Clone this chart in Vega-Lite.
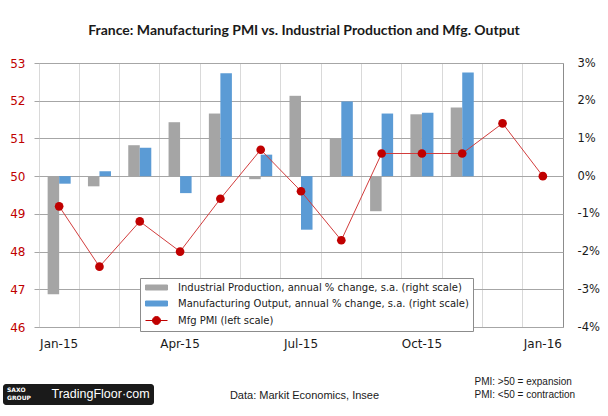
{
  "$schema": "https://vega.github.io/schema/vega-lite/v6.json",
  "width": 524,
  "height": 264,
  "autosize": {"type": "none"},
  "padding": {"left": 39, "top": 63, "right": 45, "bottom": 89},
  "background": "white",
  "title": {
    "text": "France: Manufacturing PMI vs. Industrial Production and Mfg. Output",
    "font": "Lato", "fontSize": 14, "fontWeight": "bold", "color": "#1a1a1a",
    "anchor": "middle", "frame": "group", "offset": 19, "dx": 3
  },
  "config": {
    "view": {"stroke": "#8c8c8c", "strokeWidth": 1},
    "axis": {"labelFont": "DejaVu Sans", "labelFontSize": 12, "titleFont": "Liberation Sans", "titleFontWeight": "normal", "titleColor": "#1a1a1a", "labelColor": "#1a1a1a"}
  },
  "datasets": {
    "bars": [
      {"month": "Jan-15", "series": "Industrial Production, annual % change, s.a. (right scale)", "value": -3.13},
      {"month": "Jan-15", "series": "Manufacturing Output, annual % change, s.a. (right scale)", "value": -0.2},
      {"month": "Feb-15", "series": "Industrial Production, annual % change, s.a. (right scale)", "value": -0.27},
      {"month": "Feb-15", "series": "Manufacturing Output, annual % change, s.a. (right scale)", "value": 0.13},
      {"month": "Mar-15", "series": "Industrial Production, annual % change, s.a. (right scale)", "value": 0.82},
      {"month": "Mar-15", "series": "Manufacturing Output, annual % change, s.a. (right scale)", "value": 0.75},
      {"month": "Apr-15", "series": "Industrial Production, annual % change, s.a. (right scale)", "value": 1.43},
      {"month": "Apr-15", "series": "Manufacturing Output, annual % change, s.a. (right scale)", "value": -0.45},
      {"month": "May-15", "series": "Industrial Production, annual % change, s.a. (right scale)", "value": 1.66},
      {"month": "May-15", "series": "Manufacturing Output, annual % change, s.a. (right scale)", "value": 2.73},
      {"month": "Jun-15", "series": "Industrial Production, annual % change, s.a. (right scale)", "value": -0.08},
      {"month": "Jun-15", "series": "Manufacturing Output, annual % change, s.a. (right scale)", "value": 0.57},
      {"month": "Jul-15", "series": "Industrial Production, annual % change, s.a. (right scale)", "value": 2.13},
      {"month": "Jul-15", "series": "Manufacturing Output, annual % change, s.a. (right scale)", "value": -1.42},
      {"month": "Aug-15", "series": "Industrial Production, annual % change, s.a. (right scale)", "value": 0.99},
      {"month": "Aug-15", "series": "Manufacturing Output, annual % change, s.a. (right scale)", "value": 1.98},
      {"month": "Sep-15", "series": "Industrial Production, annual % change, s.a. (right scale)", "value": -0.93},
      {"month": "Sep-15", "series": "Manufacturing Output, annual % change, s.a. (right scale)", "value": 1.66},
      {"month": "Oct-15", "series": "Industrial Production, annual % change, s.a. (right scale)", "value": 1.64},
      {"month": "Oct-15", "series": "Manufacturing Output, annual % change, s.a. (right scale)", "value": 1.68},
      {"month": "Nov-15", "series": "Industrial Production, annual % change, s.a. (right scale)", "value": 1.82},
      {"month": "Nov-15", "series": "Manufacturing Output, annual % change, s.a. (right scale)", "value": 2.75}
    ],
    "pmi": [
      {"month": "Jan-15", "series": "Mfg PMI (left scale)", "value": 49.2},
      {"month": "Feb-15", "series": "Mfg PMI (left scale)", "value": 47.6},
      {"month": "Mar-15", "series": "Mfg PMI (left scale)", "value": 48.8},
      {"month": "Apr-15", "series": "Mfg PMI (left scale)", "value": 48.0},
      {"month": "May-15", "series": "Mfg PMI (left scale)", "value": 49.4},
      {"month": "Jun-15", "series": "Mfg PMI (left scale)", "value": 50.7},
      {"month": "Jul-15", "series": "Mfg PMI (left scale)", "value": 49.6},
      {"month": "Aug-15", "series": "Mfg PMI (left scale)", "value": 48.3},
      {"month": "Sep-15", "series": "Mfg PMI (left scale)", "value": 50.6},
      {"month": "Oct-15", "series": "Mfg PMI (left scale)", "value": 50.6},
      {"month": "Nov-15", "series": "Mfg PMI (left scale)", "value": 50.6},
      {"month": "Dec-15", "series": "Mfg PMI (left scale)", "value": 51.4},
      {"month": "Jan-16", "series": "Mfg PMI (left scale)", "value": 50.0}
    ]
  },
  "layer": [
    {
      "data": {"name": "bars"},
      "mark": {"type": "bar"},
      "encoding": {
        "x": {
          "field": "month", "type": "ordinal",
          "scale": {"type": "band", "domain": ["Jan-15","Feb-15","Mar-15","Apr-15","May-15","Jun-15","Jul-15","Aug-15","Sep-15","Oct-15","Nov-15","Dec-15","Jan-16"], "paddingInner": 0, "paddingOuter": 0},
          "axis": {
            "orient": "bottom", "grid": false, "domain": false, "ticks": false, "labelAngle": 0, "labelPadding": 11,
            "labelExpr": "indexof(['Jan-15','Apr-15','Jul-15','Oct-15','Jan-16'], datum.value) >= 0 ? datum.value : ''",
            "title": "Data: Markit Economics, Insee", "titleFontSize": 11, "titleX": 265, "titleY": 68, "titleBaseline": "middle", "titleAlign": "center"
          }
        },
        "xOffset": {
          "field": "series", "type": "nominal",
          "scale": {"domain": ["Industrial Production, annual % change, s.a. (right scale)", "Manufacturing Output, annual % change, s.a. (right scale)"], "paddingInner": 0, "paddingOuter": 0.75}
        },
        "y": {
          "field": "value", "type": "quantitative",
          "scale": {"domain": [-4, 3], "nice": false, "zero": false},
          "axis": {"orient": "right", "values": [-4,-3,-2,-1,0,1,2,3], "grid": false, "domain": false, "ticks": false, "labelPadding": 14, "labelFontSize": 11.5, "labelExpr": "datum.value + '%'", "title": null}
        },
        "color": {
          "field": "series", "type": "nominal",
          "scale": {
            "domain": ["Industrial Production, annual % change, s.a. (right scale)", "Manufacturing Output, annual % change, s.a. (right scale)", "Mfg PMI (left scale)"],
            "range": ["#a5a5a5", "#5b9bd5", "#c00000"]
          },
          "legend": {
            "orient": "none", "legendX": 101, "legendY": 215, "title": null,
            "fillColor": "white", "strokeColor": "#8c8c8c", "padding": 4,
            "labelFont": "DejaVu Sans", "labelFontSize": 10, "labelColor": "#1a1a1a", "labelLimit": 400,
            "symbolSize": 100, "symbolOffset": 7, "labelOffset": 16, "rowPadding": 5,
            "encode": {
              "symbols": {
                "update": {
                  "shape": {"signal": "datum.value === 'Mfg PMI (left scale)' ? 'M-2.2,0H2.2M-0.8,0A0.8,0.8,0,1,1,0.8,0A0.8,0.8,0,1,1,-0.8,0' : 'M-2.2,-0.5H2.2V0.5H-2.2Z'"},
                  "fill": {"scale": "color", "field": "value"},
                  "stroke": {"scale": "color", "field": "value"},
                  "strokeWidth": {"value": 1},
                  "opacity": {"value": 1},
                  "fillOpacity": {"value": 1}
                }
              }
            }
          }
        }
      }
    },
    {
      "data": {"name": "pmi"},
      "layer": [
        {
          "mark": {"type": "line", "strokeWidth": 1, "stroke": "#d23c3c"},
          "encoding": {}
        },
        {
          "mark": {"type": "point", "filled": true, "size": 75, "opacity": 1},
          "encoding": {
            "color": {"field": "series", "type": "nominal"},
            "shape": {
              "datum": "TradingFloor·com",
              "legend": {
                "orient": "none", "legendX": -36, "legendY": 321,
                "title": ["SAXO", "GROUP"], "titleOrient": "left", "titleFontSize": 6, "titleColor": "white", "titleFont": "DejaVu Sans", "titleFontWeight": "bold", "titlePadding": 8, "titleLineHeight": 8,
                "fillColor": "#1a1a1a", "cornerRadius": 3, "padding": 4,
                "symbolSize": 0, "symbolOpacity": 0, "labelOffset": 0,
                "labelFont": "Liberation Sans", "labelFontSize": 12.5, "labelColor": "white"
              }
            }
          }
        }
      ],
      "encoding": {
        "x": {
          "field": "month", "type": "ordinal",
          "scale": {"type": "band", "domain": ["Jan-15","Feb-15","Mar-15","Apr-15","May-15","Jun-15","Jul-15","Aug-15","Sep-15","Oct-15","Nov-15","Dec-15","Jan-16"], "paddingInner": 0, "paddingOuter": 0},
          "axis": {
            "orient": "top", "grid": true, "gridColor": "#d9d9d9", "gridOpacity": 1, "bandPosition": 0, "domain": false, "ticks": false, "labels": false,
            "title": ["PMI: >50 = expansion", "PMI: <50 = contraction"], "titleFontSize": 10, "titleLineHeight": 13, "titleX": 435, "titleY": 313, "titleBaseline": "top", "titleAlign": "left", "titleAnchor": null
          }
        },
        "y": {
          "field": "value", "type": "quantitative",
          "scale": {"domain": [46, 53], "nice": false, "zero": false},
          "axis": {"orient": "left", "values": [46,47,48,49,50,51,52,53], "grid": true, "gridColor": "#a6a6a6", "gridOpacity": 1, "domain": false, "tickSize": 5, "tickColor": "#a6a6a6", "labelPadding": 9, "labelColor": "#c00000", "title": null}
        }
      }
    }
  ],
  "resolve": {"scale": {"y": "independent"}, "axis": {"x": "independent"}}
}
